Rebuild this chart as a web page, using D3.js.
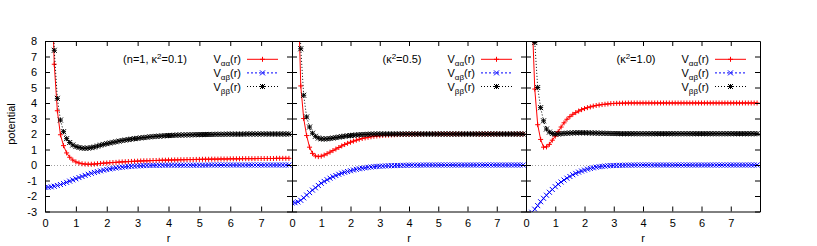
<!DOCTYPE html>
<html>
<head>
<meta charset="utf-8">
<script src="https://cdn.jsdelivr.net/npm/d3@7"></script>
<style>
body{margin:0;background:#fff;}
text{font-family:"Liberation Sans",Arial,sans-serif;font-size:11px;fill:#000;}
</style>
</head>
<body>
<script>
// sample points r
var rGrid = [0,0.1,0.2,0.3,0.4,0.5,0.6,0.7,0.8,0.9,
  1,1.1,1.2,1.3,1.4,1.5,1.6,1.7,1.8,1.9,
  2,2.1,2.2,2.3,2.4,2.5,2.6,2.7,2.8,2.9,
  3,3.1,3.2,3.3,3.4,3.5,3.6,3.7,3.8,3.9,
  4,4.1,4.2,4.3,4.4,4.5,4.6,4.7,4.8,4.9,
  5,5.1,5.2,5.3,5.4,5.5,5.6,5.7,5.8,5.9,
  6,6.1,6.2,6.3,6.4,6.5,6.6,6.7,6.8,6.9,
  7,7.1,7.2,7.3,7.4,7.5,7.6,7.7,7.8,7.9];

// panel 1 : n=1, kappa^2=0.1
var aaK01 = [40,25,13,6.5,3.5,1.95,1.25,0.78,0.5,0.32,
  0.2,0.13,0.08,0.06,0.05,0.05,0.06,0.08,0.1,0.12,
  0.13,0.15,0.16,0.17,0.19,0.2,0.21,0.22,0.23,0.24,
  0.25,0.26,0.27,0.27,0.28,0.29,0.29,0.3,0.31,0.31,
  0.32,0.32,0.33,0.33,0.34,0.34,0.35,0.35,0.35,0.36,
  0.36,0.37,0.37,0.37,0.38,0.38,0.38,0.39,0.39,0.39,
  0.4,0.4,0.4,0.4,0.41,0.41,0.41,0.41,0.41,0.42,
  0.42,0.42,0.42,0.42,0.42,0.43,0.43,0.43,0.43,0.43];
var abK01 = [-1.45,-1.44,-1.41,-1.37,-1.32,-1.26,-1.19,-1.12,-1.04,-0.96,
  -0.89,-0.81,-0.74,-0.67,-0.6,-0.54,-0.48,-0.43,-0.38,-0.33,
  -0.29,-0.25,-0.22,-0.19,-0.16,-0.14,-0.12,-0.1,-0.08,-0.07,
  -0.06,-0.05,-0.04,-0.03,-0.03,-0.02,-0.02,-0.02,-0.01,-0.01,
  -0.01,-0.01,-0.01,-0.01,-0.01,-0.01,-0.01,-0.01,-0.01,-0.01,
  -0.01,-0.01,-0.01,0,0,0,0,0,0,0,
  0,0,0,0,0,0,0,0,0,0,
  0,0,0,0,0,0,0,0,0,0];
var bbK01 = [40,25,14,7.4,4.3,2.9,2.15,1.7,1.45,1.29,
  1.19,1.13,1.09,1.08,1.09,1.12,1.16,1.22,1.28,1.33,
  1.38,1.42,1.46,1.5,1.54,1.58,1.61,1.64,1.67,1.7,
  1.72,1.75,1.77,1.79,1.82,1.83,1.85,1.86,1.88,1.89,
  1.9,1.91,1.92,1.93,1.93,1.94,1.94,1.95,1.95,1.96,
  1.96,1.96,1.97,1.97,1.97,1.98,1.98,1.98,1.98,1.99,
  1.99,1.99,1.99,1.99,1.99,2,2,2,2,2,
  2,2,2,2,2,2,2,2,2,2];

// panel 2 : kappa^2=0.5
var aaK05 = [40,25,12,5.1,3.0,1.9,1.15,0.75,0.58,0.54,
  0.57,0.64,0.73,0.83,0.93,1.03,1.13,1.23,1.32,1.4,
  1.47,1.54,1.6,1.66,1.71,1.75,1.79,1.82,1.85,1.87,
  1.89,1.91,1.92,1.93,1.94,1.95,1.96,1.97,1.97,1.98,
  1.98,1.98,1.99,1.99,1.99,1.99,2,2,2,2,
  2,2,2,2,2,2,2,2,2,2,
  2,2,2,2,2,2,2,2,2,2,
  2,2,2,2,2,2,2,2,2,2];
var abK05 = [-2.45,-2.43,-2.38,-2.28,-2.12,-1.94,-1.78,-1.62,-1.47,-1.32,
  -1.18,-1.06,-0.95,-0.85,-0.76,-0.68,-0.6,-0.53,-0.47,-0.42,
  -0.37,-0.32,-0.28,-0.24,-0.21,-0.18,-0.15,-0.13,-0.11,-0.09,
  -0.08,-0.07,-0.06,-0.05,-0.04,-0.04,-0.03,-0.03,-0.02,-0.02,
  -0.01,-0.01,-0.01,-0.01,-0.01,0,0,0,0,0,
  0,0,0,0,0,0,0,0,0,0,
  0,0,0,0,0,0,0,0,0,0,
  0,0,0,0,0,0,0,0,0,0];
var bbK05 = [40,25,14,7.5,4.5,3.1,2.45,2.05,1.85,1.74,
  1.69,1.68,1.69,1.71,1.74,1.77,1.8,1.83,1.86,1.88,
  1.9,1.92,1.94,1.95,1.96,1.97,1.98,1.99,1.99,2,
  2,2,2,2,2,2,2,2,2,2,
  2,2,2,2,2,2,2,2,2,2,
  2,2,2,2,2,2,2,2,2,2,
  2,2,2,2,2,2,2,2,2,2,
  2,2,2,2,2,2,2,2,2,2];

// panel 3 : kappa^2=1.0
var aaK10 = [40,22,10,4.9,2.6,1.65,1.15,1.17,1.33,1.6,
  1.86,2.15,2.45,2.72,2.95,3.12,3.27,3.38,3.48,3.57,
  3.64,3.7,3.75,3.8,3.84,3.87,3.9,3.92,3.94,3.96,
  3.97,3.98,3.98,3.99,3.99,4,4,4,4,4,
  4,4,4,4,4,4,4,4,4,4,
  4,4,4,4,4,4,4,4,4,4,
  4,4,4,4,4,4,4,4,4,4,
  4,4,4,4,4,4,4,4,4,4];
var abK10 = [-3.4,-3.25,-3.05,-2.85,-2.62,-2.37,-2.15,-1.95,-1.76,-1.58,
  -1.4,-1.24,-1.1,-0.97,-0.85,-0.74,-0.63,-0.54,-0.46,-0.39,
  -0.33,-0.27,-0.22,-0.18,-0.14,-0.11,-0.09,-0.07,-0.05,-0.04,
  -0.03,-0.03,-0.02,-0.02,-0.01,-0.01,-0.01,0,0,0,
  0,0,0,0,0,0,0,0,0,0,
  0,0,0,0,0,0,0,0,0,0,
  0,0,0,0,0,0,0,0,0,0,
  0,0,0,0,0,0,0,0,0,0];
var bbK10 = [40,25,14,7.9,5.0,3.7,2.85,2.32,2.12,2.03,
  2.0,2.0,2.02,2.04,2.05,2.06,2.07,2.08,2.08,2.08,
  2.08,2.07,2.07,2.06,2.06,2.05,2.05,2.04,2.04,2.03,
  2.03,2.03,2.02,2.02,2.02,2.02,2.02,2.02,2.02,2.02,
  2.02,2.02,2.02,2.02,2.02,2.02,2.02,2.02,2.02,2.02,
  2.02,2.02,2.02,2.02,2.02,2.02,2.02,2.02,2.02,2.02,
  2.02,2.02,2.02,2.02,2.02,2.02,2.02,2.02,2.02,2.02,
  2.02,2.02,2.02,2.02,2.02,2.02,2.02,2.02,2.02,2.02];

var panelSeries = [[aaK01, abK01, bbK01], [aaK05, abK05, bbK05], [aaK10, abK10, bbK10]];
var labelPrefix = ["n=1, ", "", ""];
var kappaSq = ["0.1", "0.5", "1.0"];
var seriesSubs = ["αα", "αβ", "ββ"];
var xTicks = [0,1,2,3,4,5,6,7];
var yTicks = [-3,-2,-1,0,1,2,3,4,5,6,7,8];

// layout
var svgWidth = 817, svgHeight = 246;
var panelLeft = [45, 292, 526], panelRight = [292, 526, 760];
var plotTop = 41, plotBottom = 211.5;
var colors = ["#ff0000", "#0000ff", "#000000"];
var dashes = [null, "2,2", "1,2"];
var s = 2.5;
var plusPath = "M" + (-s) + ",0H" + s + "M0," + (-s) + "V" + s;
var crossPath = "M" + (-s) + "," + (-s) + "L" + s + "," + s + "M" + (-s) + "," + s + "L" + s + "," + (-s);
var markers = [plusPath, crossPath, plusPath + crossPath];
var fontFam = '"Liberation Sans",Arial,sans-serif';

var svg = d3.select("body").append("svg")
  .attr("width", svgWidth)
  .attr("height", svgHeight);
var defs = svg.append("defs");

var y = d3.scaleLinear().domain([-3, 8]).range([plotBottom, plotTop]);

for (var k = 0; k < 3; k++) {
  var x = d3.scaleLinear().domain([0, 8]).range([panelLeft[k], panelRight[k]]);
  var g = svg.append("g");

  defs.append("clipPath").attr("id", "clip" + k)
    .append("rect")
    .attr("x", x(0)).attr("y", y(8))
    .attr("width", x(8) - x(0)).attr("height", y(-3) - y(8));

  // zero line
  g.append("line")
    .attr("x1", x(0)).attr("x2", x(8))
    .attr("y1", y(0) + 0.5).attr("y2", y(0) + 0.5)
    .attr("stroke", "#a0a0a0")
    .attr("stroke-dasharray", "1,2");

  var plot = g.append("g").attr("clip-path", "url(#clip" + k + ")");
  var line = d3.line()
    .x(function(d, i) { return x(rGrid[i]); })
    .y(function(d) { return y(d); });

  // curves with points
  for (var j = 0; j < 3; j++) {
    var vals = panelSeries[k][j];
    plot.append("path")
      .attr("d", line(vals))
      .attr("fill", "none")
      .attr("stroke", colors[j])
      .attr("stroke-width", 1)
      .attr("stroke-dasharray", dashes[j]);
    plot.selectAll(".pt" + j)
      .data(vals)
      .enter().append("path")
      .attr("class", "pt" + j)
      .attr("transform", function(d, i) { return "translate(" + x(rGrid[i]) + "," + y(d) + ")"; })
      .attr("d", markers[j])
      .attr("fill", "none")
      .attr("stroke", colors[j])
      .attr("stroke-width", 1);
  }

  // axes, ticks pointing inwards
  var axB = g.append("g").attr("transform", "translate(0," + y(-3) + ")")
    .call(d3.axisBottom(x).tickValues(xTicks).tickSizeInner(-5).tickSizeOuter(0).tickPadding(8)
      .tickFormat(function(d) { return String(d); }));
  var axT = g.append("g").attr("transform", "translate(0," + y(8) + ")")
    .call(d3.axisTop(x).tickValues(xTicks).tickSizeInner(-5).tickSizeOuter(0).tickFormat(""));
  var axL = g.append("g").attr("transform", "translate(" + x(0) + ",0)")
    .call(d3.axisLeft(y).tickValues(yTicks).tickSizeInner(-5).tickSizeOuter(0).tickPadding(8)
      .tickFormat(function(d) { return k == 0 ? String(d) : ""; }));
  var axR = g.append("g").attr("transform", "translate(" + x(8) + ",0)")
    .call(d3.axisRight(y).tickValues(yTicks).tickSizeInner(-5).tickSizeOuter(0).tickFormat(""));
  [axB, axT, axL, axR].forEach(function(a) {
    a.attr("font-size", 11).attr("font-family", fontFam);
  });

  // panel label
  var lab = g.append("text")
    .attr("x", x(0) + 110)
    .attr("y", 63.3)
    .attr("text-anchor", "middle");
  lab.append("tspan").text("(" + labelPrefix[k] + "κ");
  lab.append("tspan").attr("font-size", 8).attr("dy", -4).text("2");
  lab.append("tspan").attr("dy", 4).text("=" + kappaSq[k] + ")");

  // legend
  for (var j = 0; j < 3; j++) {
    var ly = 59.3 + 13.6 * j;
    var t = g.append("text")
      .attr("x", x(8) - 51)
      .attr("y", ly + 4)
      .attr("text-anchor", "end");
    t.append("tspan").text("V");
    t.append("tspan").attr("font-size", 8).attr("dy", 3).text(seriesSubs[j]);
    t.append("tspan").attr("dy", -3).text("(r)");
    g.append("line")
      .attr("x1", x(8) - 45).attr("x2", x(8) - 14)
      .attr("y1", ly).attr("y2", ly)
      .attr("stroke", colors[j])
      .attr("stroke-dasharray", dashes[j]);
    g.append("path")
      .attr("transform", "translate(" + (x(8) - 29.5) + "," + ly + ")")
      .attr("d", markers[j])
      .attr("fill", "none")
      .attr("stroke", colors[j]);
  }

  // x title
  g.append("text")
    .attr("x", (x(0) + x(8)) / 2)
    .attr("y", 242)
    .attr("text-anchor", "middle")
    .text("r");
}

svg.append("text")
  .attr("transform", "translate(15,124) rotate(-90)")
  .attr("text-anchor", "middle")
  .text("potential");
</script>
</body>
</html>
